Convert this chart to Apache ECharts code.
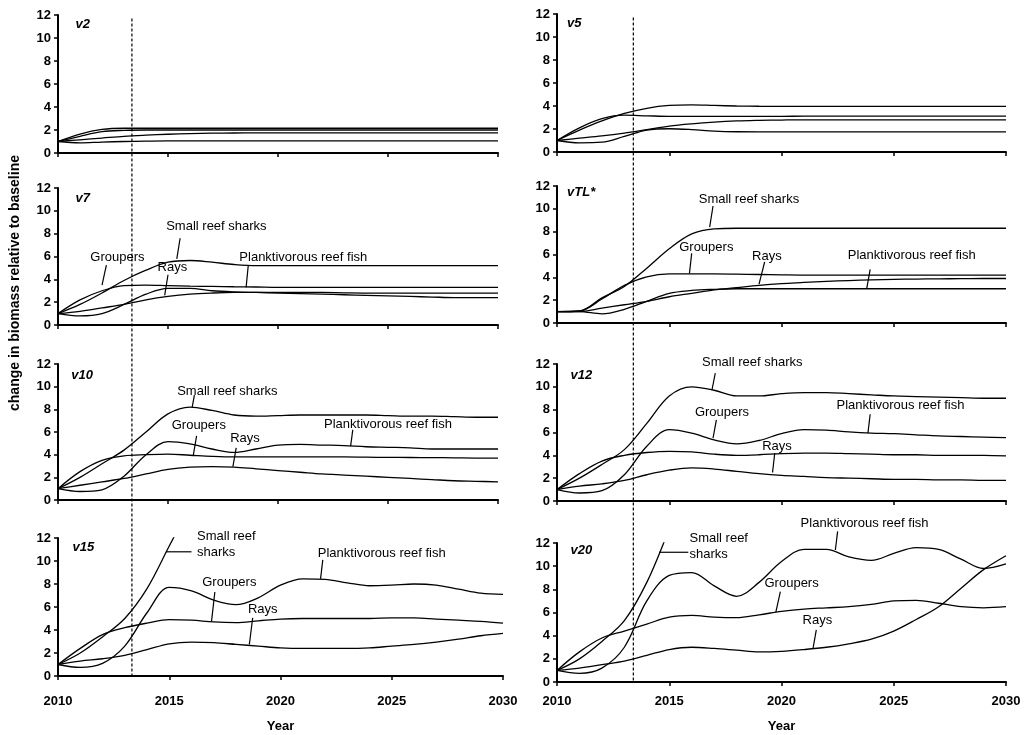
<!DOCTYPE html>
<html><head><meta charset="utf-8">
<script src="https://cdn.jsdelivr.net/npm/echarts@6/dist/echarts.min.js"></script>
<style>html,body{margin:0;padding:0;background:#fff}#c{width:1030px;height:735px}</style>
</head><body><div id="c"></div><script>
const years = [2010,2011,2012,2013,2014,2015,2016,2017,2018,2019,2020,2021,2022,2023,2024,2025,2026,2027,2028,2029,2030];
const xTicks = [2010,2015,2020,2025,2030];
const yTicks = [0,2,4,6,8,10,12];
const seriesNames = ['Small reef sharks','Groupers','Rays','Planktivorous reef fish'];

const v2Sharks   = [1,1.65,2.05,2.15,2.15,2.15,2.15,2.15,2.15,2.15,2.15,2.15,2.15,2.15,2.15,2.15,2.15,2.15,2.15,2.15,2.15];
const v2Groupers = [1,1.45,1.85,1.97,2.0,2.0,2.0,2.0,2.0,2.0,2.0,2.0,2.0,2.0,2.0,2.0,2.0,2.0,2.0,2.0,2.0];
const v2Rays     = [1,1.15,1.3,1.45,1.55,1.63,1.68,1.72,1.74,1.75,1.75,1.75,1.75,1.75,1.75,1.75,1.75,1.75,1.75,1.75,1.75];
const v2Plankt   = [1,0.88,0.95,1.0,1.03,1.05,1.05,1.05,1.05,1.05,1.05,1.05,1.05,1.05,1.05,1.05,1.05,1.05,1.05,1.05,1.05];

const v5Sharks   = [1,1.9,2.7,3.35,3.8,4.05,4.1,4.05,4.0,3.98,3.97,3.97,3.97,3.97,3.97,3.97,3.97,3.97,3.97,3.97,3.97];
const v5Groupers = [1,2.1,2.9,3.2,3.15,3.1,3.1,3.1,3.1,3.1,3.1,3.12,3.12,3.12,3.12,3.12,3.12,3.12,3.12,3.12,3.12];
const v5Rays     = [1,1.2,1.4,1.65,1.95,2.25,2.45,2.6,2.7,2.75,2.78,2.8,2.8,2.8,2.8,2.8,2.8,2.8,2.8,2.8,2.8];
const v5Plankt   = [1,0.8,0.85,1.35,1.9,2.02,1.95,1.82,1.76,1.75,1.75,1.75,1.75,1.75,1.75,1.75,1.75,1.75,1.75,1.75,1.75];

const v7Sharks   = [1,1.8,2.8,3.9,4.8,5.5,5.65,5.5,5.3,5.2,5.2,5.2,5.2,5.2,5.2,5.2,5.2,5.2,5.2,5.2,5.2];
const v7Groupers = [1,2.2,3.0,3.45,3.5,3.45,3.4,3.38,3.35,3.33,3.3,3.3,3.3,3.3,3.3,3.3,3.3,3.3,3.3,3.3,3.3];
const v7Rays     = [1,1.2,1.5,1.8,2.2,2.5,2.7,2.8,2.85,2.85,2.85,2.85,2.85,2.82,2.8,2.8,2.8,2.8,2.8,2.8,2.8];
const v7Plankt   = [1,0.8,1.0,1.8,2.7,3.2,3.2,3.0,2.9,2.85,2.8,2.75,2.7,2.65,2.6,2.55,2.5,2.45,2.4,2.4,2.4];

const vTLSharks   = [1,1.05,2.2,3.2,4.8,6.5,7.8,8.25,8.3,8.3,8.3,8.3,8.3,8.3,8.3,8.3,8.3,8.3,8.3,8.3,8.3];
const vTLGroupers = [1,1.05,2.1,3.3,4.05,4.3,4.3,4.3,4.28,4.25,4.22,4.2,4.2,4.2,4.2,4.2,4.2,4.2,4.2,4.2,4.2];
const vTLRays     = [1,1.0,1.3,1.6,1.9,2.3,2.6,2.9,3.1,3.3,3.45,3.55,3.65,3.72,3.78,3.82,3.85,3.87,3.88,3.9,3.9];
const vTLPlankt   = [1,1.0,0.8,1.2,1.9,2.6,2.85,2.95,3.0,3.0,3.0,3.0,3.0,3.0,3.0,3.0,3.0,3.0,3.0,3.0,3.0];

const v10Sharks   = [1,2.0,3.2,4.4,6.0,7.6,8.2,7.9,7.5,7.4,7.45,7.5,7.5,7.5,7.5,7.45,7.4,7.4,7.35,7.3,7.3];
const v10Groupers = [1,2.5,3.5,3.9,4.0,4.05,3.95,3.85,3.8,3.8,3.8,3.8,3.8,3.8,3.78,3.76,3.75,3.74,3.72,3.7,3.7];
const v10Rays     = [1,1.3,1.6,1.9,2.3,2.7,2.9,2.95,2.9,2.75,2.6,2.45,2.3,2.2,2.1,2.0,1.9,1.8,1.7,1.65,1.6];
const v10Plankt   = [1,0.75,0.9,2.1,4.0,5.15,4.95,4.5,4.2,4.5,4.85,4.9,4.85,4.8,4.7,4.65,4.6,4.5,4.5,4.5,4.5];

const v12Sharks   = [1,2.0,3.2,4.5,6.8,9.2,10.0,9.7,9.2,9.2,9.4,9.5,9.5,9.4,9.3,9.2,9.15,9.1,9.05,9.0,9.0];
const v12Groupers = [1,2.4,3.5,4.0,4.25,4.35,4.3,4.1,4.0,4.05,4.15,4.2,4.2,4.15,4.1,4.05,4.05,4.0,4.0,4.0,3.95];
const v12Rays     = [1,1.3,1.5,1.8,2.3,2.7,2.9,2.8,2.6,2.4,2.25,2.15,2.05,2.0,1.95,1.9,1.9,1.85,1.85,1.8,1.8];
const v12Plankt   = [1,0.7,0.9,2.3,4.8,6.25,5.95,5.35,5.0,5.3,5.9,6.25,6.2,6.05,5.95,5.9,5.8,5.7,5.65,5.6,5.55];

const v15Sharks   = [1,2.0,3.4,5.0,7.6,11.3,15.0,null,null,null,null,null,null,null,null,null,null,null,null,null,null];
const v15Groupers = [1,2.4,3.6,4.2,4.6,4.9,4.85,4.7,4.65,4.8,4.95,5.0,5.0,5.0,5.0,5.05,5.05,4.95,4.85,4.75,4.6];
const v15Rays     = [1,1.3,1.5,1.8,2.3,2.8,2.95,2.9,2.75,2.6,2.45,2.4,2.4,2.4,2.45,2.6,2.75,2.95,3.2,3.5,3.7];
const v15Plankt   = [1,0.75,1.1,2.6,5.5,7.7,7.4,6.6,6.2,6.8,7.9,8.45,8.4,8.1,7.85,7.9,8.0,7.9,7.55,7.2,7.1];

const v20Sharks   = [1,2.0,3.5,5.3,8.6,13.2,18.0,null,null,null,null,null,null,null,null,null,null,null,null,null,null];
const v20Groupers = [1,2.6,3.8,4.4,5.0,5.6,5.75,5.6,5.55,5.8,6.1,6.3,6.4,6.5,6.7,7.0,7.05,6.8,6.5,6.4,6.5];
const v20Rays     = [1,1.2,1.5,1.8,2.3,2.8,3.0,2.9,2.75,2.6,2.65,2.8,3.0,3.3,3.7,4.4,5.4,6.5,8.1,9.7,10.9];
const v20Plankt   = [1,0.75,1.2,3.0,7.0,9.2,9.45,8.3,7.4,8.6,10.4,11.45,11.45,10.8,10.5,11.1,11.6,11.45,10.6,9.8,10.2];

const panelNames = ['v2','v5','v7','vTL*','v10','v12','v15','v20'];
const panelData = [
  [v2Sharks,v2Groupers,v2Rays,v2Plankt],
  [v5Sharks,v5Groupers,v5Rays,v5Plankt],
  [v7Sharks,v7Groupers,v7Rays,v7Plankt],
  [vTLSharks,vTLGroupers,vTLRays,vTLPlankt],
  [v10Sharks,v10Groupers,v10Rays,v10Plankt],
  [v12Sharks,v12Groupers,v12Rays,v12Plankt],
  [v15Sharks,v15Groupers,v15Rays,v15Plankt],
  [v20Sharks,v20Groupers,v20Rays,v20Plankt]
];

// ---- layout (pixels) ----
const boxes = [
  {left:58, top:15, width:440, height:138},
  {left:557, top:14, width:449, height:138},
  {left:58, top:188, width:440, height:137},
  {left:557, top:186, width:449, height:137},
  {left:58, top:364, width:440, height:136},
  {left:557, top:364, width:449, height:137},
  {left:58, top:538, width:445, height:138},
  {left:557, top:543, width:449, height:139}
];
const bottomRow = [6,7];
const labelMargin = {6:19, 7:13};
const nameGapX = {6:44, 7:38};

// ---- annotation placement (data space of each panel) ----
const panelTagPos = [[2010.8,11.2],[2010.45,11.2],[2010.8,11.1],[2010.45,11.4],[2010.6,11.0],[2010.6,11.0],[2010.65,11.2],[2010.6,11.4]];
const notes = {
  2: [
    {t:'Small reef sharks', at:[2017.2,8.6], ln:[2015.55,7.6,2015.4,5.8]},
    {t:'Groupers', at:[2012.7,5.9], ln:[2012.2,5.25,2012.0,3.5]},
    {t:'Rays', at:[2015.2,5.0], ln:[2015.0,4.4,2014.85,2.6]},
    {t:'Planktivorous reef fish', at:[2021.15,5.95], ln:[2018.65,5.25,2018.55,3.3]}
  ],
  3: [
    {t:'Small reef sharks', at:[2018.55,10.8], ln:[2016.95,10.25,2016.8,8.4]},
    {t:'Groupers', at:[2016.65,6.65], ln:[2016.0,6.1,2015.9,4.35]},
    {t:'Rays', at:[2019.35,5.85], ln:[2019.25,5.35,2019.0,3.4]},
    {t:'Planktivorous reef fish', at:[2025.8,5.95], ln:[2023.95,4.7,2023.8,3.05]}
  ],
  4: [
    {t:'Small reef sharks', at:[2017.7,9.6], ln:[2016.2,9.25,2016.1,8.2]},
    {t:'Groupers', at:[2016.4,6.6], ln:[2016.3,5.65,2016.15,3.95]},
    {t:'Rays', at:[2018.5,5.4], ln:[2018.1,4.6,2017.95,2.95]},
    {t:'Planktivorous reef fish', at:[2025.0,6.7], ln:[2023.4,6.2,2023.3,4.75]}
  ],
  5: [
    {t:'Small reef sharks', at:[2018.7,12.1], ln:[2017.05,11.2,2016.9,9.7]},
    {t:'Groupers', at:[2017.35,7.8], ln:[2017.1,7.1,2016.95,5.5]},
    {t:'Rays', at:[2019.8,4.8], ln:[2019.7,4.2,2019.6,2.5]},
    {t:'Planktivorous reef fish', at:[2025.3,8.4], ln:[2023.95,7.6,2023.85,5.95]}
  ],
  6: [
    {t:'Small reef\nsharks', at:[2016.25,11.4], left:true, ln:[2016.0,10.8,2014.85,10.8]},
    {t:'Planktivorous reef fish', at:[2024.55,10.7], ln:[2021.9,10.1,2021.8,8.45]},
    {t:'Groupers', at:[2017.7,8.1], ln:[2017.05,7.3,2016.9,4.75]},
    {t:'Rays', at:[2019.2,5.8], ln:[2018.75,5.05,2018.6,2.75]}
  ],
  7: [
    {t:'Small reef\nsharks', at:[2015.9,11.7], left:true, ln:[2015.85,11.2,2014.55,11.2]},
    {t:'Planktivorous reef fish', at:[2023.7,13.7], ln:[2022.5,13.0,2022.4,11.4]},
    {t:'Groupers', at:[2020.45,8.5], ln:[2019.95,7.8,2019.75,6.05]},
    {t:'Rays', at:[2021.6,5.3], ln:[2021.55,4.5,2021.4,2.85]}
  ]
};
const refYear = [2013.36, 2013.4];

const FONT = 'Arial, "Liberation Sans", sans-serif';
const chart = echarts.init(document.getElementById('c'), null, {renderer:'canvas'});

const grid = boxes.map(b => Object.assign({containLabel:false, outerBoundsMode:'none'}, b));
const xAxis = boxes.map((b,i) => {
  const isBottom = bottomRow.includes(i);
  return {
    type:'value', gridIndex:i, min:xTicks[0], max:xTicks[xTicks.length-1], interval:5,
    axisLine:{show:true, onZero:false, lineStyle:{color:'#000', width:2}},
    axisTick:{show:true, length:4, lineStyle:{color:'#000', width:1.5}},
    axisLabel:{show:isBottom, margin:labelMargin[i]||10, color:'#000', fontFamily:FONT, fontWeight:'bold', fontSize:13,
      showMinLabel:true, showMaxLabel:true, formatter: v => String(v)},
    splitLine:{show:false},
    name: isBottom ? 'Year' : '', nameLocation:'middle', nameGap:nameGapX[i]||30,
    nameTextStyle:{color:'#000', fontFamily:FONT, fontWeight:'bold', fontSize:13}
  };
});
const yAxis = boxes.map((b,i) => ({
  type:'value', gridIndex:i, min:yTicks[0], max:yTicks[yTicks.length-1], interval:2,
  axisLine:{show:true, lineStyle:{color:'#000', width:2}},
  axisTick:{show:true, length:4, lineStyle:{color:'#000', width:1.5}},
  axisLabel:{show:true, margin:7, color:'#000', fontFamily:FONT, fontWeight:'bold', fontSize:13},
  splitLine:{show:false}
}));
const series = [];
panelData.forEach((arrs, i) => {
  arrs.forEach((arr, k) => {
    series.push({
      type:'line', name: panelNames[i] + ' ' + seriesNames[k], xAxisIndex:i, yAxisIndex:i,
      data: years.map((yr, j) => [yr, arr[j]]),
      symbol:'none', showSymbol:false, smooth:0.35, clip:true, silent:true,
      lineStyle:{color:'#000', width:1.3}
    });
  });
});

chart.setOption({
  backgroundColor:'#fff', animation:false,
  grid, xAxis, yAxis, series
});

// annotations positioned through each panel's own scales
const g = [];
const conv = (i, p) => chart.convertToPixel({gridIndex:i}, p);
panelNames.forEach((nm, i) => {
  const p = conv(i, panelTagPos[i]);
  g.push({type:'text', x:p[0], y:p[1], silent:true,
    style:{text:nm, font:'italic bold 13px ' + FONT, fill:'#000', align:'left', verticalAlign:'middle', textAlign:'left', textVerticalAlign:'middle'}});
});
Object.keys(notes).forEach(key => {
  const i = +key;
  notes[key].forEach(n => {
    const p = conv(i, n.at);
    g.push({type:'text', x:p[0], y:p[1], silent:true,
      style:{text:n.t, font:'13px ' + FONT, lineHeight:16, fill:'#000',
        align:n.left?'left':'center', textAlign:n.left?'left':'center', verticalAlign:'middle', textVerticalAlign:'middle'}});
    const a = conv(i, [n.ln[0], n.ln[1]]);
    const b = conv(i, [n.ln[2], n.ln[3]]);
    g.push({type:'line', silent:true, shape:{x1:a[0], y1:a[1], x2:b[0], y2:b[1]}, style:{stroke:'#000', lineWidth:1.2}});
  });
});
// dashed reference line across each column
[[0,6],[1,7]].forEach((pair, c) => {
  const top = conv(pair[0], [refYear[c], 11.7]);
  const bot = conv(pair[1], [refYear[c], 0]);
  g.push({type:'line', silent:true, shape:{x1:top[0], y1:top[1], x2:top[0], y2:bot[1]-1},
    style:{stroke:'#000', lineWidth:1.2, lineDash:[3,2]}});
});
// shared y-axis title
g.push({type:'text', x:15, y:283, rotation:Math.PI/2, silent:true,
  style:{text:'change in biomass relative to baseline', font:'bold 14px ' + FONT, fill:'#000',
    align:'center', textAlign:'center', verticalAlign:'middle', textVerticalAlign:'middle'}});

chart.setOption({graphic: g});
</script></body></html>
